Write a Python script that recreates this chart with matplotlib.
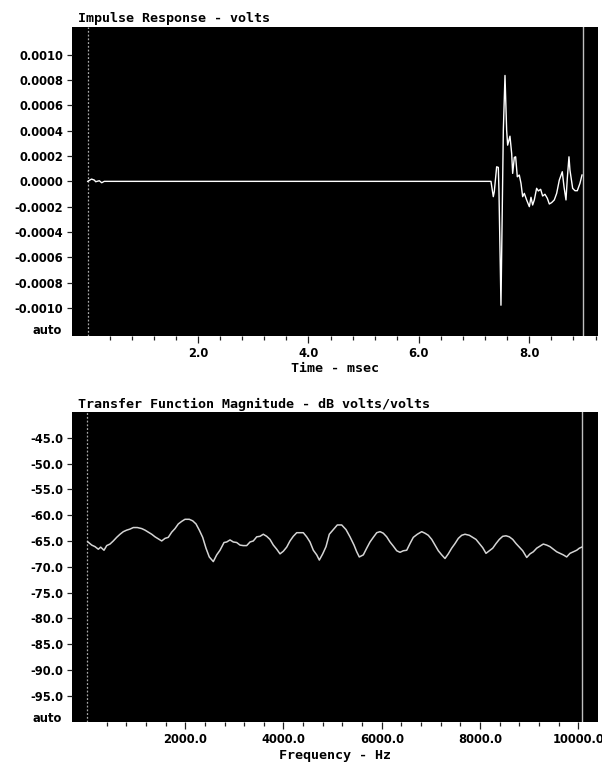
import numpy as np
import matplotlib
matplotlib.use("Agg")
import matplotlib.pyplot as plt
import matplotlib.transforms as mtransforms

# impulse response (msec, volts)
imp_t = [0.0, 0.07, 0.12, 0.145, 0.21, 0.254, 0.30, 7.306, 7.348, 7.366, 7.409,
         7.439, 7.451, 7.487, 7.530, 7.560, 7.590, 7.608, 7.650, 7.681, 7.699,
         7.729, 7.753, 7.783, 7.819, 7.850, 7.880, 7.910, 7.952, 8.001, 8.031,
         8.061, 8.091, 8.133, 8.164, 8.206, 8.242, 8.284, 8.327, 8.363, 8.405,
         8.453, 8.496, 8.544, 8.598, 8.629, 8.665, 8.689, 8.719, 8.737, 8.786,
         8.828, 8.870, 8.918, 8.955]
imp_v = [0.0, 1.8e-5, 1.0e-5, -0.3e-5, 0.5e-5, -1.1e-5, 0.0, 0.0, -1.21e-4, -0.82e-4,
         1.15e-4, 1.10e-4, -0.82e-4, -9.79e-4, 4.04e-4, 8.37e-4, 4.04e-4, 2.86e-4,
         3.57e-4, 2.20e-4, 0.63e-4, 1.89e-4, 1.94e-4, 0.36e-4, 0.50e-4, -0.16e-4,
         -1.21e-4, -0.95e-4, -1.47e-4, -2.00e-4, -1.26e-4, -1.87e-4, -1.47e-4,
         -0.55e-4, -0.76e-4, -0.63e-4, -1.16e-4, -1.02e-4, -1.34e-4, -1.79e-4,
         -1.68e-4, -1.47e-4, -0.95e-4, 0.10e-4, 0.76e-4, -0.42e-4, -1.47e-4,
         0.24e-4, 1.94e-4, 0.89e-4, -0.55e-4, -0.74e-4, -0.74e-4, -0.16e-4, 0.50e-4]

# transfer function magnitude (Hz, dB)
tf_f = [16, 98, 165, 232, 281, 348, 403, 470, 537, 606, 674, 741, 810, 877, 944,
        1026, 1115, 1182, 1249, 1319, 1386, 1453, 1522, 1589, 1656, 1725, 1793,
        1860, 1929, 1996, 2083, 2153, 2220, 2287, 2356, 2423, 2490, 2572, 2641,
        2708, 2790, 2844, 2912, 2979, 3048, 3115, 3182, 3251, 3319, 3386, 3455,
        3522, 3589, 3658, 3725, 3793, 3862, 3929, 3996, 4065, 4132, 4199, 4269,
        4336, 4403, 4472, 4539, 4607, 4676, 4729, 4798, 4865, 4932, 5013, 5095,
        5184, 5272, 5353, 5435, 5490, 5542, 5624, 5693, 5760, 5827, 5897, 5964,
        6031, 6100, 6167, 6234, 6304, 6371, 6438, 6507, 6574, 6641, 6723, 6812,
        6879, 6946, 7016, 7083, 7150, 7219, 7286, 7353, 7422, 7490, 7557, 7626,
        7693, 7781, 7850, 7917, 7984, 8053, 8120, 8188, 8257, 8324, 8391, 8460,
        8527, 8595, 8664, 8731, 8798, 8867, 8949, 9016, 9083, 9152, 9219, 9286,
        9355, 9422, 9490, 9559, 9626, 9693, 9762, 9829, 9896, 9966, 10019, 10067]
tf_db = [-65.15, -65.8, -66.1, -66.6, -66.2, -66.8, -65.9, -65.6, -65.0, -64.3,
         -63.7, -63.2, -62.9, -62.7, -62.4, -62.4, -62.6, -62.9, -63.3, -63.7,
         -64.2, -64.6, -65.0, -64.5, -64.3, -63.3, -62.6, -61.7, -61.2, -60.8,
         -60.8, -61.1, -61.7, -62.9, -64.3, -66.4, -68.1, -69.0, -67.7, -66.8,
         -65.3, -65.2, -64.8, -65.2, -65.3, -65.8, -65.9, -65.9, -65.2, -65.0,
         -64.2, -64.1, -63.7, -64.1, -64.7, -65.8, -66.6, -67.5, -67.0, -66.2,
         -65.0, -64.1, -63.4, -63.4, -63.4, -64.2, -65.2, -66.8, -67.7, -68.7,
         -67.5, -66.1, -63.7, -62.8, -61.9, -61.9, -62.8, -64.2, -65.8, -67.1,
         -68.1, -67.7, -66.4, -65.2, -64.3, -63.4, -63.2, -63.5, -64.2, -65.2,
         -66.0, -66.9, -67.2, -66.9, -66.8, -65.5, -64.3, -63.7, -63.2, -63.5,
         -63.9, -64.7, -65.8, -66.9, -67.7, -68.4, -67.5, -66.4, -65.5, -64.5,
         -63.9, -63.7, -63.9, -64.3, -64.7, -65.5, -66.3, -67.4, -66.9, -66.4,
         -65.5, -64.7, -64.1, -64.0, -64.2, -64.7, -65.5, -66.2, -66.9, -68.2,
         -67.5, -67.1, -66.4, -66.0, -65.6, -65.8, -66.1, -66.6, -67.1, -67.4,
         -67.7, -68.1, -67.4, -67.1, -66.8, -66.4, -66.2]

imp_yticks = [0.0010, 0.0008, 0.0006, 0.0004, 0.0002, 0.0, -0.0002, -0.0004,
              -0.0006, -0.0008, -0.0010]
imp_ylabels = ["0.0010", "0.0008", "0.0006", "0.0004", "0.0002", "0.0000",
               "-0.0002", "-0.0004", "-0.0006", "-0.0008", "-0.0010"]
imp_xticks = [2.0, 4.0, 6.0, 8.0]
imp_xlabels = ["2.0", "4.0", "6.0", "8.0"]
tf_yticks = [-45, -50, -55, -60, -65, -70, -75, -80, -85, -90, -95]
tf_ylabels = ["-45.0", "-50.0", "-55.0", "-60.0", "-65.0", "-70.0", "-75.0",
              "-80.0", "-85.0", "-90.0", "-95.0"]
tf_xticks = [2000, 4000, 6000, 8000, 10000]
tf_xlabels = ["2000.0", "4000.0", "6000.0", "8000.0", "10000.0"]

W, H = 602, 763
fig = plt.figure(figsize=(W / 100, H / 100), dpi=100)
fig.patch.set_facecolor("white")

tick_font = dict(family="DejaVu Sans", weight="bold", size=8.3)
head_font = dict(family="DejaVu Sans Mono", weight="bold", size=9.6)


def setup(ax, xlim, ylim, xticks, xlabels, minor_step, yticks, ylabels, auto_y):
    ax.set_facecolor("black")
    for s in ax.spines.values():
        s.set_visible(False)
    ax.set_xlim(*xlim)
    ax.set_ylim(*ylim)
    ax.set_xticks(xticks)
    ax.set_xticklabels(xlabels, **tick_font)
    minors = np.arange(minor_step, xlim[1], minor_step)
    ax.set_xticks(minors, minor=True)
    ax.set_yticks(yticks)
    ax.set_yticklabels(ylabels, **tick_font)
    ax.tick_params(axis="x", which="major", direction="out", length=5, width=0.9,
                   pad=3, color="#202020")
    ax.tick_params(axis="x", which="minor", direction="out", length=2.8, width=0.9,
                   color="#202020")
    ax.tick_params(axis="y", direction="out", length=3.6, width=0.9, pad=3,
                   color="#202020")
    trans = mtransforms.blended_transform_factory(ax.transAxes, ax.transData)
    ax.text(-0.0196, auto_y, "auto", transform=trans, ha="right", va="center",
            **tick_font)


# top: impulse response
ax1 = fig.add_axes([72.3 / W, 1 - 335.7 / H, 525.7 / W, 308.7 / H])
setup(ax1, (-0.279, 9.245), (-0.00122, 0.00122), imp_xticks, imp_xlabels, 0.4,
      imp_yticks, imp_ylabels, -0.00118)
ax1.axvline(0.0, color="#a8a8a8", lw=0.9, ls=(0, (1.5, 1.5)))
ax1.axvline(8.97, color="#c0c0c0", lw=1.0)
ax1.plot(imp_t, imp_v, color="white", lw=1.0)

# bottom: transfer function
ax2 = fig.add_axes([72.3 / W, 1 - 721.5 / H, 525.7 / W, 309.5 / H])
setup(ax2, (-297, 10399), (-100, -40), tf_xticks, tf_xlabels, 400,
      tf_yticks, tf_ylabels, -99.4)
ax2.axvline(0.0, color="#a8a8a8", lw=0.9, ls=(0, (1.5, 1.5)))
ax2.axvline(10080, color="#c0c0c0", lw=1.0)
ax2.plot(tf_f, tf_db, color="#d4d4d4", lw=1.1)

cx = (72.3 + 598) / 2 / W
fig.text(78 / W, 1 - 18.5 / H, "Impulse Response - volts", ha="left", va="center",
         **head_font)
fig.text(cx, 1 - 369 / H, "Time - msec", ha="center", va="center", **head_font)
fig.text(78 / W, 1 - 404 / H, "Transfer Function Magnitude - dB volts/volts",
         ha="left", va="center", **head_font)
fig.text(cx, 1 - 755 / H, "Frequency - Hz", ha="center", va="center", **head_font)

fig.savefig("out.png", dpi=100, facecolor="white")
